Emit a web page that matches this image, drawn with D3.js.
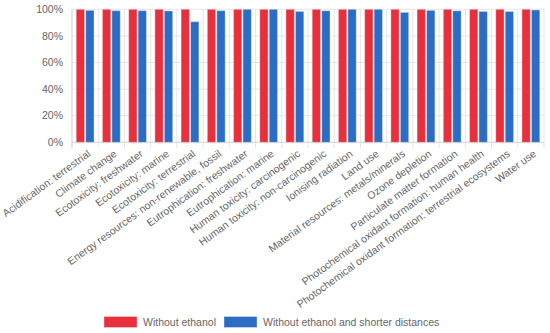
<!DOCTYPE html>
<html>
<head>
<meta charset="utf-8">
<script src="https://cdn.jsdelivr.net/npm/d3@7"></script>
<style>
  body { margin: 0; background: #fff; }
  svg { display: block; font-family: "Liberation Sans", Arial, sans-serif; }
</style>
</head>
<body>
<svg id="chart" width="550" height="333"></svg>
<script>
var categories = [
  "Acidification: terrestrial", "Climate change", "Ecotoxicity: freshwater",
  "Ecotoxicity: marine", "Ecotoxicity: terrestrial", "Energy resources: non-renewable, fossil",
  "Eutrophication: freshwater", "Eutrophication: marine", "Human toxicity: carcinogenic",
  "Human toxicity: non-carcinogenic", "Ionising radiation", "Land use",
  "Material resources: metals/minerals", "Ozone depletion", "Particulate matter formation",
  "Photochemical oxidant formation: human health", "Photochemical oxidant formation: terrestrial ecosystems",
  "Water use"
];
var seriesNames = ["Without ethanol", "Without ethanol and shorter distances"];
var withoutEthanol = [100, 100, 100, 100, 100, 100, 100, 100, 100, 100, 100, 100, 100, 100, 100, 100, 100, 100];
var shorterDistances = [99.2, 99, 99, 98.8, 90.7, 99, 100, 100, 98.4, 98.9, 100, 100, 97.7, 99.2, 98.9, 98.4, 98.4, 99.5];
var yTicks = [0, 20, 40, 60, 80, 100];
var colors = ["#e8303d", "#2b6dc5"];

var svg = d3.select("#chart");
var plotLeft = 72, plotRight = 544, plotTop = 9.3, plotBottom = 142.3;

var x0 = d3.scaleBand().domain(categories).range([plotLeft, plotRight]).padding(0);
var x1 = d3.scaleBand().domain(seriesNames).range([4.2, x0.bandwidth() - 4.2]).paddingInner(0.12);
var y = d3.scaleLinear().domain([0, 100]).range([plotBottom, plotTop]);

// grid
var grid = svg.append("g").attr("stroke", "#e6e6e6").attr("stroke-width", 1);
grid.selectAll("line.h").data(yTicks).enter().append("line")
  .attr("x1", plotLeft).attr("x2", plotRight)
  .attr("y1", function(d) { return y(d); }).attr("y2", function(d) { return y(d); });
var bounds = categories.map(function(c) { return x0(c); }).concat([plotRight]);
grid.selectAll("line.v").data(bounds).enter().append("line")
  .attr("x1", function(d) { return d; }).attr("x2", function(d) { return d; })
  .attr("y1", plotTop).attr("y2", plotBottom + 6);
svg.append("line").attr("x1", plotLeft).attr("x2", plotLeft).attr("y1", plotTop).attr("y2", plotBottom + 6)
  .attr("stroke", "#d9d9d9");
svg.append("line").attr("x1", plotLeft).attr("x2", plotRight).attr("y1", plotBottom).attr("y2", plotBottom)
  .attr("stroke", "#d9d9d9");

// bars
var data = [withoutEthanol, shorterDistances];
var groups = svg.append("g").selectAll("g").data(categories).enter().append("g")
  .attr("transform", function(c) { return "translate(" + x0(c) + ",0)"; });
groups.selectAll("rect").data(function(c, i) {
  return seriesNames.map(function(s, k) { return { s: s, v: data[k][i], k: k }; });
}).enter().append("rect")
  .attr("x", function(d) { return x1(d.s); })
  .attr("width", x1.bandwidth())
  .attr("y", function(d) { return y(d.v); })
  .attr("height", function(d) { return y(0) - y(d.v); })
  .attr("fill", function(d) { return colors[d.k]; })
  .attr("stroke", "rgba(255,255,255,0.35)")
  .attr("stroke-width", 1);

// y axis labels
svg.append("g").selectAll("text").data(yTicks).enter().append("text")
  .attr("x", 63).attr("y", function(d) { return y(d); }).attr("dy", "0.35em")
  .attr("text-anchor", "end").attr("font-size", "10.5px").attr("fill", "#666")
  .text(function(d) { return d + "%"; });

// x labels
svg.append("g").selectAll("text").data(categories).enter().append("text")
  .attr("transform", function(c) {
    return "translate(" + (x0(c) + x0.bandwidth() / 2 + 4) + "," + (plotBottom + 10) + ") rotate(-36)";
  })
  .attr("text-anchor", "end").attr("dy", "0.35em")
  .attr("font-size", "10.5px").attr("fill", "#666")
  .text(function(c) { return c; });

// legend
var legend = svg.append("g");
var legendX = [104, 224];
seriesNames.forEach(function(s, k) {
  legend.append("rect").attr("x", legendX[k]).attr("y", 316.5).attr("width", 33).attr("height", 11)
    .attr("fill", colors[k]).attr("stroke", "rgba(255,255,255,0.35)");
  legend.append("text").attr("x", legendX[k] + 39).attr("y", 322).attr("dy", "0.35em")
    .attr("font-size", "10.5px").attr("fill", "#666").text(s);
});
</script>
</body>
</html>
